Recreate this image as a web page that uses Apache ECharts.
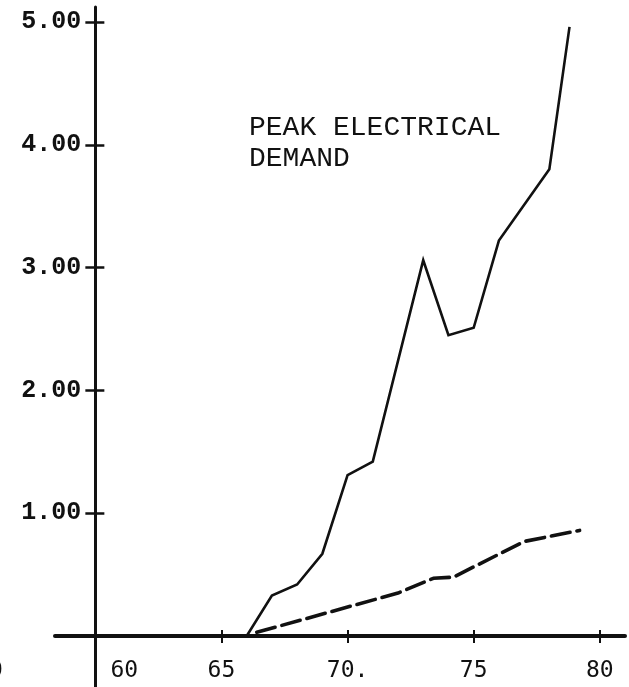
<!DOCTYPE html>
<html>
<head>
<meta charset="utf-8">
<title>Peak Electrical Demand</title>
<script src="https://cdn.jsdelivr.net/npm/echarts@6.0.0/dist/echarts.min.js"></script>
<style>
  html, body { margin: 0; padding: 0; background: #fff; }
  #chart { width: 629px; height: 687px; }
</style>
</head>
<body>
<div id="chart"></div>
<script>
// year axis is drawn relative to 1960 so the value axis can sit on "zero"
var baseYear = 60;

// solid line: peak electrical demand
var peakYears  = [66, 67, 68, 69, 70, 71, 73, 74, 75, 76, 78, 78.8];
var peakValues = [0.0, 0.33, 0.42, 0.67, 1.31, 1.42, 3.06, 2.45, 2.51, 3.22, 3.80, 4.96];

// dashed line
var dashYears  = [66.4, 72, 73.4, 74.2, 77, 79.2];
var dashValues = [0.03, 0.35, 0.47, 0.48, 0.77, 0.86];

// ticks
var xTickYears  = [60, 65, 70, 75, 80];
var xTickLabels = ['60', '65', '70.', '75', '80'];
var yTickValues = [1, 2, 3, 4, 5];

function toPairs(years, values){
    var out = [];
    for (var i = 0; i < years.length; i++) {
        out.push([years[i] - baseYear, values[i]]);
    }
    return out;
}

function buildChart(){
    var myChart = echarts.init(document.getElementById('chart'));
    var xTicks = xTickYears.map(function(y){ return y - baseYear; });
    var xTicksNoOrigin = xTicks.filter(function(v){ return v !== 0; });
    var ink = '#111';

    var option = {
        animation: false,
        backgroundColor: '#fff',
        grid: [
            // outer grid: axis lines run past the origin on both axes
            { left: 55, right: 4, top: 7, bottom: 0, outerBoundsMode: 'none' },
            // plot grid: 1960..1980 by 0..5, carries the tick labels
            { left: 95.35, right: 29.2, top: 22, bottom: 51, outerBoundsMode: 'none' }
        ],
        xAxis: [{
            type: 'value',
            gridIndex: 0,
            min: -1.6,
            max: 21,
            position: 'bottom',
            splitLine: { show: false },
            axisLine: { onZero: true, lineStyle: { color: ink, width: 4 } },
            axisTick: { show: true, customValues: xTicksNoOrigin, length: 7, lineStyle: { color: ink, width: 2 } },
            axisLabel: { show: false }
        }, {
            // upper half of the crossing ticks
            type: 'value',
            gridIndex: 0,
            min: -1.6,
            max: 21,
            position: 'top',
            splitLine: { show: false },
            axisLine: { show: false, onZero: true },
            axisTick: { show: true, customValues: xTicksNoOrigin, length: 6, lineStyle: { color: ink, width: 2 } },
            axisLabel: { show: false }
        }, {
            type: 'value',
            gridIndex: 1,
            min: 0,
            max: 20,
            position: 'bottom',
            splitLine: { show: false },
            axisLine: { show: false },
            axisTick: { show: false },
            axisLabel: {
                customValues: xTicks,
                margin: 24,
                color: ink,
                fontFamily: 'DejaVu Sans Mono',
                fontSize: 23,
                formatter: function(v){
                    var idx = xTicks.indexOf(v);
                    var txt = idx >= 0 ? xTickLabels[idx] : '';
                    return v === 0 ? '{first|' + txt + '}' : txt;
                },
                rich: {
                    first: { padding: [0, 0, 0, 58], fontFamily: 'DejaVu Sans Mono', fontSize: 23, color: ink }
                }
            }
        }],
        yAxis: [{
            type: 'value',
            gridIndex: 0,
            min: -0.415,
            max: 5.122,
            position: 'left',
            splitLine: { show: false },
            axisLine: { onZero: true, lineStyle: { color: ink, width: 3 } },
            axisTick: { show: true, customValues: yTickValues, length: 10, lineStyle: { color: ink, width: 2.5 } },
            axisLabel: { show: false }
        }, {
            type: 'value',
            gridIndex: 0,
            min: -0.415,
            max: 5.122,
            position: 'right',
            splitLine: { show: false },
            axisLine: { show: false, onZero: true },
            axisTick: { show: true, customValues: yTickValues, length: 9, lineStyle: { color: ink, width: 2.5 } },
            axisLabel: { show: false }
        }, {
            type: 'value',
            gridIndex: 1,
            min: 0,
            max: 5,
            position: 'left',
            splitLine: { show: false },
            axisLine: { show: false },
            axisTick: { show: false },
            axisLabel: {
                customValues: yTickValues,
                margin: 14,
                color: ink,
                fontFamily: 'Liberation Mono',
                fontWeight: 'bold',
                fontSize: 25,
                formatter: function(v){ return v.toFixed(2); }
            }
        }],
        graphic: [{
            type: 'text',
            left: 249,
            top: 112,
            style: {
                text: 'PEAK ELECTRICAL\nDEMAND',
                fill: ink,
                font: '28px "Liberation Mono"',
                lineHeight: 31
            }
        }, {
            type: 'text',
            left: -11,
            top: 660,
            style: { text: '0', fill: ink, font: '23px "DejaVu Sans Mono"' }
        }],
        series: [{
            name: 'Peak electrical demand',
            type: 'line',
            xAxisIndex: 0,
            yAxisIndex: 0,
            data: toPairs(peakYears, peakValues),
            showSymbol: false,
            lineStyle: { color: ink, width: 2.6, join: 'miter' }
        }, {
            name: 'Dashed series',
            type: 'line',
            xAxisIndex: 0,
            yAxisIndex: 0,
            data: toPairs(dashYears, dashValues),
            showSymbol: false,
            lineStyle: { color: ink, width: 3.6, type: [19, 7], cap: 'round' }
        }]
    };
    myChart.setOption(option);
}

buildChart();
</script>
</body>
</html>
